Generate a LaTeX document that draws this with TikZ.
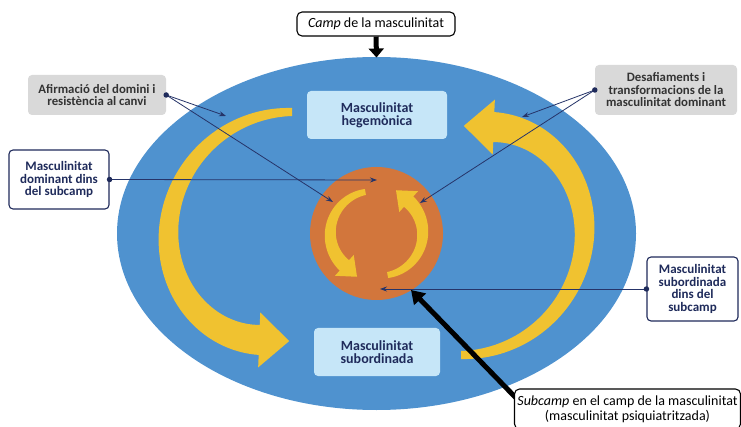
\documentclass[tikz,border=0pt]{standalone}
\usepackage{fontspec}
\setmainfont{Carlito}
\usetikzlibrary{arrows.meta,calc}
\definecolor{bigblue}{RGB}{79,146,207}
\definecolor{orng}{RGB}{210,118,60}
\definecolor{yel}{RGB}{240,194,48}
\definecolor{lblue}{RGB}{198,230,248}
\definecolor{gbox}{RGB}{217,217,217}
\definecolor{navy}{RGB}{31,43,91}
\definecolor{lnavy}{RGB}{38,52,105}
\tikzset{
 cbox/.style={fill=lblue, rounded corners=4pt, text=navy, font=\bfseries\fontsize{14}{13}\selectfont, align=center, inner sep=0pt},
 gbx/.style={fill=gbox, rounded corners=4pt, text=black!80, font=\bfseries\fontsize{12.8}{12.5}\selectfont, align=center, inner sep=0pt},
 nbox/.style={draw=navy, line width=1.1pt, fill=white, rounded corners=4pt, text=navy, font=\bfseries\fontsize{13}{12.8}\selectfont, align=center, inner sep=0pt},
 kbox/.style={draw=black, line width=1.1pt, fill=white, rounded corners=5pt, text=black, font=\fontsize{14}{15}\selectfont, align=center, inner sep=0pt},
 conn/.style={draw=lnavy, line width=0.8pt, -{Stealth[length=7pt,width=5pt]}},
 cdot/.style={fill=navy, circle, inner sep=0pt, minimum size=5.5pt},
 blk/.style={draw=black, line width=5pt, -{Triangle[length=13pt,width=16pt]}},
 blktop/.style={draw=black, line width=5pt, -{Triangle[length=9pt,width=15pt]}},
}
% tapered curved arrow: cx0 cy rx ry t0 t1 w0 w1 ; centre x drifts by \yDcx,
% head length \yHL, head half width \yHW
\newcommand{\yarrow}[8]{%
  \pgfmathsetmacro\yCa{cos(#6)}%
  \pgfmathsetmacro\ySa{sin(#6)}%
  \pgfmathsetmacro\yBx{#1+\yDcx+#3*\yCa}%
  \pgfmathsetmacro\yBy{#2-#4*\ySa}%
  \pgfmathsetmacro\yS{(#6>#5)*2-1}%
  \pgfmathsetmacro\yUx{(-#3*\ySa+\yDcx*57.2958/((#6)-(#5)))/100}%
  \pgfmathsetmacro\yUy{-#4*\yCa/100}%
  \pgfmathsetmacro\yUn{sqrt(\yUx*\yUx+\yUy*\yUy)}%
  \pgfmathsetmacro\yUx{\yUx/\yUn}%
  \pgfmathsetmacro\yUy{\yUy/\yUn}%
  \pgfmathsetmacro\yTx{\yS*\yUx}%
  \pgfmathsetmacro\yTy{\yS*\yUy}%
  \pgfmathsetmacro\yNx{-\yUy}%
  \pgfmathsetmacro\yNy{\yUx}%
  \fill[yel] plot[domain=#5:#6,samples=80,variable=\t]
    ({#1+\yDcx*(\t-(#5))/((#6)-(#5))+(#3+0.5*(#7+(#8-#7)*(\t-(#5))/((#6)-(#5))))*cos(\t)},{#2-(#4+0.5*(#7+(#8-#7)*(\t-(#5))/((#6)-(#5))))*sin(\t)})
    -- ({\yBx+\yHW*(\yNx)},{\yBy+\yHW*(\yNy)})
    -- ({\yBx+\yHL*(\yTx)},{\yBy+\yHL*(\yTy)})
    -- ({\yBx-\yHW*(\yNx)},{\yBy-\yHW*(\yNy)})
    -- plot[domain=#6:#5,samples=80,variable=\t]
    ({#1+\yDcx*(\t-(#5))/((#6)-(#5))+(#3-0.5*(#7+(#8-#7)*(\t-(#5))/((#6)-(#5))))*cos(\t)},{#2-(#4-0.5*(#7+(#8-#7)*(\t-(#5))/((#6)-(#5))))*sin(\t)})
    -- cycle;%
}
\begin{document}
\begin{tikzpicture}[x=1pt,y=-1pt]
\useasboundingbox (0,0) rectangle (741,427);
\fill[white] (0,0) rectangle (741,427);
% field and subfield
\fill[bigblue] (376.5,233.5) ellipse [x radius=259.5pt, y radius=176.5pt];
\fill[orng] (376.5,233.5) circle [radius=66.5pt];
% yellow arrows
\def\yHL{30}\def\yHW{27.5}
\def\yDcx{-29}
\yarrow{292}{226}{108.5}{114}{90}{268}{8}{30}
\def\yDcx{29}
\yarrow{461}{241}{108.5}{114}{-90}{88}{8}{30}
\def\yHL{17}\def\yHW{14}
\def\yDcx{0}
\yarrow{372.8}{233.8}{42.5}{42.5}{100}{228}{6}{14}
\yarrow{380.2}{233.2}{42.5}{42.5}{-80}{48}{6}{14}
% central boxes
\node[cbox, minimum width=140, minimum height=48] (heg) at (377,115) {Masculinitat\\hegemònica};
\node[cbox, minimum width=126, minimum height=48] (sub) at (377,352) {Masculinitat\\subordinada};
% side boxes
\node[gbx, minimum width=138, minimum height=40] (afir) at (97,95) {Afirmació del domini i\\resistència al canvi};
\node[nbox, minimum width=100, minimum height=59] (domin) at (59,179.5) {Masculinitat\\dominant dins\\del subcamp};
\node[gbx, minimum width=142, minimum height=50] (desaf) at (666,90) {Desafiaments i\\transformacions de la\\masculinitat dominant};
\node[nbox, minimum width=91, minimum height=64] (subd) at (692.5,289) {Masculinitat\\subordinada\\dins del\\subcamp};
% connector targets
\coordinate (aT1) at (226,116);
\coordinate (aT2) at (333,202);
\coordinate (dT1) at (522,117);
\coordinate (dT2) at (420,203);
\coordinate (mT) at (377,180);
\coordinate (sT) at (380,289);
\draw[conn] (afir.east) -- (aT1);
\draw[conn] (afir.east) -- (aT2);
\draw[conn] (desaf.west) -- (dT1);
\draw[conn] (desaf.west) -- (dT2);
\draw[conn] (domin.east) -- (mT);
\draw[conn] (subd.west) -- (sT);
\node[cdot] (afirdot) at (afir.east) {};
\node[cdot] (desafdot) at (desaf.west) {};
\node[cdot] (domindot) at (domin.east) {};
\node[cdot] (subddot) at (subd.west) {};
% black arrows and boxes
\node[kbox, minimum width=158, minimum height=24] (camp) at (376,24) {\textit{Camp} de la masculinitat};
\coordinate (ellTop) at (376.5,57.5);
\draw[blktop] (camp.south) -- (ellTop);
\coordinate (subtip) at (411,290);
\coordinate (subtail) at (518,400);
\draw[blk] (subtail) -- (subtip);
\node[kbox, minimum width=226, minimum height=40] (subc) at (627.5,409) {\textit{Subcamp} en el camp de la masculinitat\\(masculinitat psiquiatritzada)};
\end{tikzpicture}
\end{document}
